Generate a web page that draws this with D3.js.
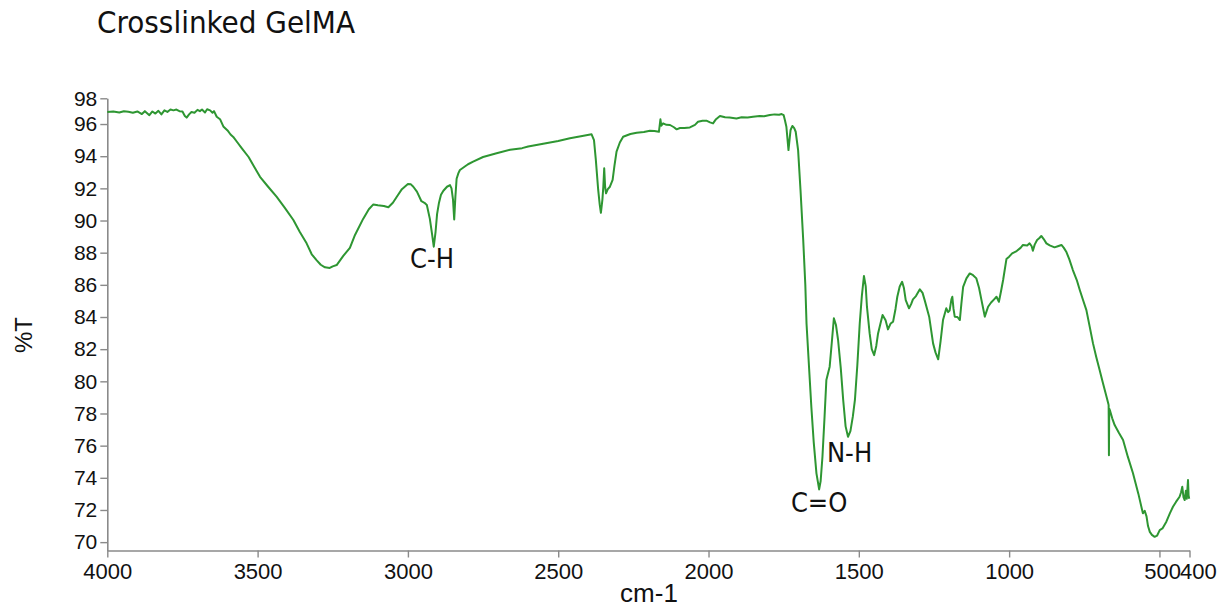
<!DOCTYPE html>
<html>
<head>
<meta charset="utf-8">
<script src="https://cdn.jsdelivr.net/npm/d3@7"></script>
<style>
  html, body { margin: 0; padding: 0; background: #fff; }
  svg { display: block; }
</style>
</head>
<body>
<svg id="chart" width="1222" height="614"></svg>
<script>
// ---------------- data ----------------
const title = "Crosslinked GelMA";
const xLabel = "cm-1";
const yLabel = "%T";
const xTickValues = [4000, 3500, 3000, 2500, 2000, 1500, 1000, 500, 400];
const yTickValues = [70, 72, 74, 76, 78, 80, 82, 84, 86, 88, 90, 92, 94, 96];
const yTopTickLabel = "98";
const xDomain = [4000, 400];
const yDomain = [69.48, 97.6];

const wavenumber = [
  4000,3980,3960,3945,3930,3915,3900,3885,3875,3860,3850,3840,3830,3820,3810,3800,3790,3780,3770,3760,
  3750,3742,3736,3728,3720,3710,3700,3692,3685,3675,3668,3658,3650,3645,3636,3625,3614,3600,3590,3581,
  3567,3553,3530,3510,3492,3465,3437,3410,3381,3360,3337,3320,3304,3290,3276,3260,3250,3237,3215,3193,
  3176,3149,3130,3115,3100,3080,3065,3050,3038,3020,3000,2990,2982,2970,2955,2945,2937,2927,2920,2914,
  2908,2903,2897,2890,2882,2870,2860,2855,2850,2846,2842,2838,2832,2827,2800,2783,2750,2705,2660,2620,
  2600,2550,2500,2461,2420,2389,2381,2375,2367,2362,2358,2353,2350,2347,2344,2341,2335,2328,2319,2313,
  2306,2295,2284,2260,2239,2215,2195,2180,2165,2160,2157,2151,2140,2128,2115,2106,2095,2080,2062,2045,
  2035,2020,2007,1995,1985,1975,1962,1945,1930,1907,1890,1870,1852,1830,1815,1796,1780,1765,1757,1750,
  1746,1741,1734,1729,1727,1721,1715,1710,1702,1694,1685,1678,1674,1666,1658,1650,1641,1632,1627,1621,
  1614,1608,1597,1590,1583,1576,1569,1560,1552,1544,1536,1528,1520,1513,1505,1497,1490,1483,1477,1473,
  1464,1457,1449,1442,1436,1428,1421,1411,1403,1394,1386,1378,1372,1364,1356,1350,1344,1333,1326,1320,
  1310,1297,1288,1281,1266,1253,1245,1236,1228,1220,1209,1203,1198,1192,1189,1185,1181,1172,1164,1159,
  1153,1142,1131,1120,1109,1100,1092,1086,1081,1076,1070,1060,1050,1042,1034,1027,1020,1009,1000,990,
  975,962,954,940,932,925,921,915,907,900,893,885,876,865,849,838,826,818,810,800,
  788,775,765,755,743,732,721,710,699,688,676,670,669,668,667,665,657,649,635,621,
  605,588,570,555,549,543,538,532,525,516,508,499,490,477,465,455,445,433,428,424,
  420,416,412,409,405,403,401
];
const transmittance = [
  96.75,96.78,96.72,96.8,96.76,96.7,96.78,96.62,96.8,96.55,96.78,96.65,96.82,96.6,96.85,96.75,96.9,96.85,96.9,96.8,
  96.78,96.5,96.4,96.6,96.75,96.7,96.88,96.8,96.9,96.72,96.92,96.85,96.7,96.8,96.45,96.3,95.85,95.6,95.35,95.2,
  94.85,94.5,93.95,93.3,92.72,92.1,91.48,90.8,90.03,89.3,88.58,87.9,87.54,87.25,87.09,87.05,87.15,87.23,87.8,88.3,
  89.1,90.1,90.7,91.0,90.95,90.9,90.82,91.1,91.45,91.95,92.27,92.25,92.1,91.8,91.2,91.1,90.96,90.1,89.2,88.37,
  89.3,90.4,91.07,91.6,91.85,92.1,92.2,92.0,91.3,90.07,91.5,92.6,92.95,93.14,93.5,93.66,93.95,94.18,94.4,94.5,
  94.6,94.78,94.95,95.12,95.25,95.36,95.0,93.8,91.9,91.0,90.48,91.3,92.1,93.25,92.1,91.69,91.95,92.1,92.52,93.4,
  94.28,94.85,95.21,95.38,95.46,95.5,95.58,95.56,95.52,96.29,95.9,96.04,95.95,95.94,95.8,95.67,95.75,95.75,95.79,95.95,
  96.14,96.2,96.21,96.1,96.04,96.3,96.5,96.42,96.4,96.35,96.42,96.4,96.45,96.5,96.48,96.56,96.6,96.58,96.62,96.55,
  96.25,95.83,94.38,95.3,95.63,95.88,95.75,95.52,94.38,91.9,88.79,86.0,83.6,81.0,78.42,76.2,74.28,73.28,73.8,75.31,
  77.8,80.08,80.91,82.4,83.92,83.5,82.57,80.8,78.84,77.2,76.55,76.9,77.8,78.84,81.0,83.6,85.3,86.55,85.9,84.64,
  82.98,82.0,81.63,82.2,82.98,83.6,84.12,83.8,83.23,83.6,83.71,84.5,85.26,85.9,86.19,85.8,85.05,84.54,84.8,85.1,
  85.3,85.72,85.5,85.05,84.02,82.36,81.8,81.37,82.5,83.81,84.54,84.3,84.4,85.1,85.26,84.5,84.02,84.0,83.81,84.8,
  85.88,86.4,86.71,86.6,86.4,85.8,85.05,84.5,84.02,84.3,84.64,84.9,85.1,85.26,84.95,85.6,86.3,87.6,87.75,87.96,
  88.1,88.3,88.48,88.45,88.58,88.4,88.12,88.5,88.79,88.9,89.04,88.85,88.58,88.45,88.33,88.4,88.48,88.3,88.06,87.6,
  86.92,86.3,85.68,85.1,84.43,83.4,82.36,81.5,80.7,79.9,79.04,78.6,78.52,75.4,78.3,78.21,77.7,77.28,76.8,76.35,
  75.3,74.28,73.0,71.79,71.95,71.6,71.0,70.64,70.45,70.33,70.4,70.75,70.85,71.27,71.8,72.2,72.5,72.82,73.1,73.44,
  72.8,72.62,73.2,72.7,73.86,72.9,72.7
];

const annotations = [
  { text: "C-H", wn: 2993, t: 87.04 },
  { text: "N-H", wn: 1606, t: 74.98 },
  { text: "C=O", wn: 1726, t: 71.87 }
];

// ---------------- drawing ----------------
const svg = d3.select("#chart");
const axisColor = "#8a8a8a";
const lineColor = "#2e9632";

const x = d3.scaleLinear().domain(xDomain).range([107.3, 1189.5]);
const y = d3.scaleLinear().domain(yDomain).range([550.5, 98.3]);

const points = wavenumber.map((w, i) => [w, transmittance[i]]);

// axes
const yAxis = d3.axisLeft(y)
  .tickValues([...yTickValues, yDomain[1]])
  .tickFormat(d => d === yDomain[1] ? yTopTickLabel : String(d))
  .tickSize(7).tickSizeOuter(0).tickPadding(3);
const gy = svg.append("g").attr("transform", "translate(107.3,0)").call(yAxis);

const xAxis = d3.axisBottom(x)
  .tickValues(xTickValues)
  .tickFormat(d => String(d))
  .tickSize(7).tickSizeOuter(0).tickPadding(4);
const gx = svg.append("g").attr("transform", "translate(0,550.5)").call(xAxis);

[gx, gy].forEach(g => {
  g.selectAll(".domain").attr("stroke", axisColor).attr("stroke-width", 1.6);
  g.selectAll(".tick line").attr("stroke", axisColor).attr("stroke-width", 1.4);
  g.selectAll(".tick text")
    .attr("fill", "#111")
    .attr("font-family", "'Liberation Sans', Arial, sans-serif")
    .attr("font-size", 21);
});
gx.selectAll(".tick text").attr("dy", "0.78em").attr("font-size", 22);
// last tick label sits right after the 500 label (as in the reference)
gx.selectAll(".tick text").filter(d => d === 400)
  .attr("text-anchor", "start").attr("x", -10);
gx.selectAll(".tick text").filter(d => d === 500)
  .attr("text-anchor", "end").attr("x", 21);

// spectrum line
svg.append("path")
  .datum(points)
  .attr("fill", "none")
  .attr("stroke", lineColor)
  .attr("stroke-width", 2)
  .attr("stroke-linejoin", "round")
  .attr("d", d3.line().x(d => x(d[0])).y(d => y(d[1])));

// title
svg.append("text")
  .attr("x", 97).attr("y", 33)
  .attr("font-family", "'DejaVu Sans Condensed', 'DejaVu Sans', sans-serif")
  .attr("font-size", 31)
  .attr("fill", "#111")
  .text(title);

// axis labels
svg.append("text")
  .attr("x", 649).attr("y", 602)
  .attr("text-anchor", "middle")
  .attr("font-family", "'Liberation Sans', Arial, sans-serif")
  .attr("font-size", 26)
  .attr("fill", "#111")
  .text(xLabel);

svg.append("text")
  .attr("transform", "translate(32,335) rotate(-90)")
  .attr("text-anchor", "middle")
  .attr("font-family", "'Liberation Sans', Arial, sans-serif")
  .attr("font-size", 24)
  .attr("fill", "#111")
  .text(yLabel);

// peak annotations
svg.selectAll("text.ann")
  .data(annotations)
  .enter().append("text")
  .attr("class", "ann")
  .attr("x", d => x(d.wn))
  .attr("y", d => y(d.t))
  .attr("font-family", "'DejaVu Sans Condensed', 'DejaVu Sans', sans-serif")
  .attr("font-size", 27)
  .attr("fill", "#111")
  .text(d => d.text);
</script>
</body>
</html>
